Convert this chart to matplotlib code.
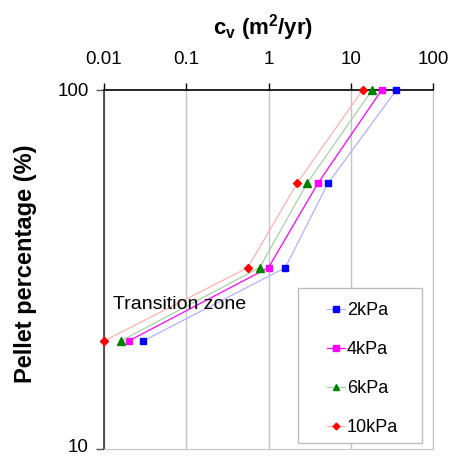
import matplotlib
matplotlib.use("Agg")
import matplotlib.pyplot as plt
from matplotlib.patches import Rectangle
from matplotlib.transforms import ScaledTranslation
from matplotlib.ticker import FixedLocator, NullLocator, FuncFormatter

plt.rcParams['font.family'] = ['Liberation Sans', 'DejaVu Sans']

# Pellet percentage (%) levels
pellet = [100, 55, 32, 20]

# Coefficient of consolidation c_v (m^2/yr) for each stress level
cv_2kpa = [35.9, 5.3, 1.6, 0.030]
cv_4kpa = [23.8, 4.0, 1.0, 0.020]
cv_6kpa = [18.2, 2.95, 0.78, 0.016]
cv_10kpa = [13.9, 2.23, 0.56, 0.010]

labels = ['2kPa', '4kPa', '6kPa', '10kPa']
x_ticks = [0.01, 0.1, 1, 10, 100]
x_ticklabels = ['0.01', '0.1', '1', '10', '100']
y_ticks = [10, 100]
y_ticklabels = ['10', '100']

W, H = 454, 457
fig = plt.figure(figsize=(W / 100, H / 100), dpi=100)
ax = fig.add_axes([104 / W, 1 - 449 / H, (433 - 104) / W, (449 - 90) / H])

styles = [
    dict(color='#b0b0ff', marker='s', mfc='#0000ff', mec='#0000ff', ms=5),
    dict(color='#ff00ff', marker='s', mfc='#ff00ff', mec='#ff00ff', ms=5),
    dict(color='#a8d0a8', marker='^', mfc='#008000', mec='#008000', ms=5.5),
    dict(color='#ffb0b0', marker='D', mfc='#ff0000', mec='#ff0000', ms=3.8),
]
series = [cv_2kpa, cv_4kpa, cv_6kpa, cv_10kpa]
handles = []
for xs, lab, st in zip(series, labels, styles):
    h, = ax.plot(xs, pellet, lw=0.9, label=lab, clip_on=False, zorder=3, **st)
    handles.append(h)

ax.set_xscale('log')
ax.set_yscale('log')
ax.set_xlim(0.01, 100)
ax.set_ylim(10, 100)

ax.xaxis.set_major_locator(FixedLocator(x_ticks))
ax.xaxis.set_minor_locator(NullLocator())
ax.xaxis.set_major_formatter(FuncFormatter(lambda v, p: x_ticklabels[x_ticks.index(v)] if v in x_ticks else ''))
ax.yaxis.set_major_locator(FixedLocator(y_ticks))
ax.yaxis.set_minor_locator(NullLocator())
ax.yaxis.set_major_formatter(FuncFormatter(lambda v, p: y_ticklabels[y_ticks.index(v)] if v in y_ticks else ''))

ax.xaxis.tick_top()
ax.tick_params(axis='x', direction='out', length=5, width=1, pad=11, labelsize=13.5, color='black')
ax.tick_params(axis='y', direction='out', length=6, width=1, pad=5, labelsize=13.5, color='#555555')

ax.grid(True, axis='x', color='#c4c4c4', lw=1)
ax.set_axisbelow(True)

ax.spines['top'].set_color('black')
ax.spines['top'].set_linewidth(1.2)
ax.spines['left'].set_color('#333333')
ax.spines['left'].set_linewidth(1.2)
ax.spines['bottom'].set_color('#c4c4c4')
ax.spines['right'].set_color('#c4c4c4')

# Keep the lowest y tick label inside the canvas
fig.canvas.draw()
for lbl in ax.get_yticklabels():
    if lbl.get_text() == '10':
        lbl.set_transform(lbl.get_transform() + ScaledTranslation(0, 3 / 100, fig.dpi_scale_trans))

# Axis titles
fig.text(263 / W, 1 - 28 / H, r'c$_\mathregular{v}$ (m$^\mathregular{2}$/yr)',
         fontsize=16, fontweight='bold', ha='center', va='center')
fig.text(26 / W, 1 - 264 / H, 'Pellet percentage (%)', rotation=90,
         fontsize=17, fontweight='bold', ha='center', va='center')

ax.text(0.0129, 25.3, 'Transition zone', fontsize=14, ha='left', va='center')

# Legend frame and entries
fig.patches.append(Rectangle((298 / W, 1 - 443 / H), 124 / W, 155 / H,
                             transform=fig.transFigure, facecolor='white',
                             edgecolor='#bdbdbd', lw=1, zorder=5))
leg = fig.legend(handles=handles, labels=labels, loc='upper left',
                 bbox_to_anchor=(320 / W, 1 - 295 / H), frameon=False,
                 fontsize=13, handlelength=1.0, handletextpad=0.1,
                 labelspacing=1.22, markerscale=0.9, borderaxespad=0)
leg.set_zorder(6)

fig.savefig('out.png', dpi=100)
